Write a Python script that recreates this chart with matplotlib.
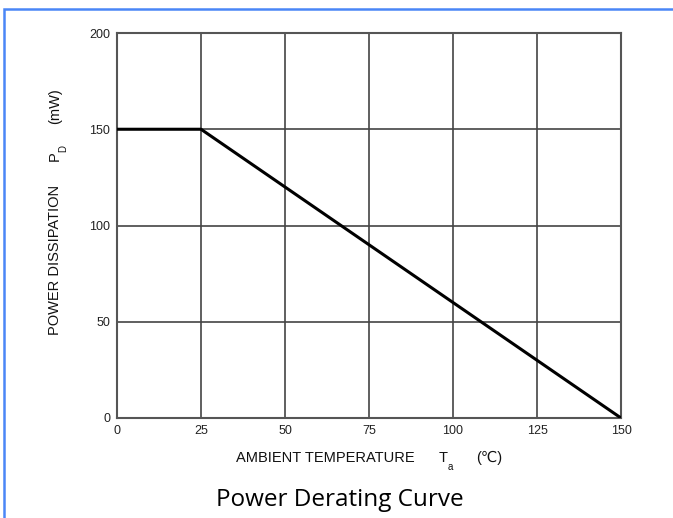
import matplotlib.pyplot as plt
from matplotlib.patches import Rectangle

temp = [0, 25, 150]
power = [150, 150, 0]
xticks = [0, 25, 50, 75, 100, 125, 150]
yticks = [0, 50, 100, 150, 200]

W, H = 673, 518
plt.rcParams['font.family'] = ['Liberation Sans', 'DejaVu Sans']

fig = plt.figure(figsize=(W/100, H/100), dpi=100)
ax = fig.add_axes([117/W, 1-418/H, 504/W, 385/H])

ax.plot(temp, power, color='black', lw=2.2, solid_capstyle='butt', zorder=3)
ax.set_xlim(0, 150)
ax.set_ylim(0, 200)
ax.set_xticks(xticks)
ax.set_yticks(yticks)
ax.grid(True, color='#444444', lw=1.2)
for s in ax.spines.values():
    s.set_color('#555555')
    s.set_linewidth(1.5)
ax.tick_params(length=0, labelsize=9, colors='#222222', pad=5)


def txt(x, y, s, **kw):
    # place text using pixel coords measured from top-left
    return fig.text(x/W, 1-y/H, s, **kw)


lab = dict(fontsize=10.5, color='#111111')
# x axis label pieces
txt(236, 458, 'AMBIENT TEMPERATURE', ha='left', va='center', **lab)
txt(443, 458, 'T', ha='center', va='center', **lab)
txt(450, 467, 'a', ha='center', va='center', fontsize=7, color='#111111')
txt(476, 458, '(℃)', ha='left', va='center', **lab)

# y axis label pieces
txt(55, 335, 'POWER DISSIPATION', rotation=90, ha='center', va='bottom', **lab)
txt(55, 156, 'P', rotation=90, ha='center', va='center', **lab)
txt(63, 148, 'D', rotation=90, ha='center', va='center', fontsize=7, color='#111111')
txt(55, 124, '(mW)', rotation=90, ha='center', va='bottom', **lab)

txt(340, 500, 'Power Derating Curve', ha='center', va='center',
    fontsize=17.5, family=['Open Sans', 'DejaVu Sans'])

# blue frame on the left and top
fig.patches.append(Rectangle((4/W, -0.1), 1.2, 1-9/H+0.1, transform=fig.transFigure,
                             fill=False, edgecolor='#4a86f7', lw=1.8))

fig.savefig('out.png', dpi=100)
